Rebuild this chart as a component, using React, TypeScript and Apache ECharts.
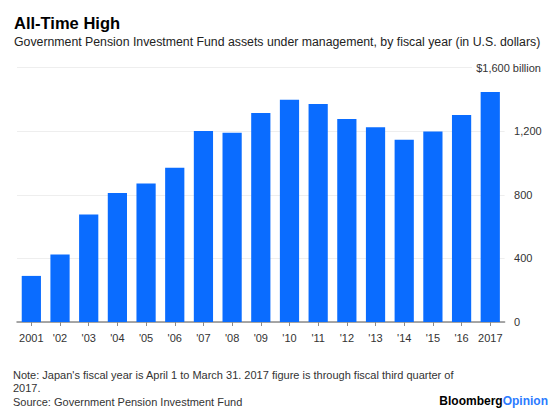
import React, { useEffect, useRef } from "react";
import * as echarts from "echarts";

const categories = ["2001", "'02", "'03", "'04", "'05", "'06", "'07", "'08", "'09", "'10", "'11", "'12", "'13", "'14", "'15", "'16", "2017"];
const assets = [290, 425, 676, 811, 872, 970, 1202, 1190, 1315, 1399, 1372, 1278, 1225, 1146, 1198, 1303, 1447];
const yTicks = [0, 400, 800, 1200, 1600];
const topTickLabel = "$1,600 billion";

const titleText = "All-Time High";
const subtitleText = "Government Pension Investment Fund assets under management, by fiscal year (in U.S. dollars)";
const noteLines = [
  "Note: Japan's fiscal year is April 1 to March 31. 2017 figure is through fiscal third quarter of",
  "2017.",
  "Source: Government Pension Investment Fund",
];

const FONT = "'Liberation Sans', Arial, sans-serif";
const BLUE = "#0a6cff";

export default function App() {
  const ref = useRef<HTMLDivElement>(null);
  useEffect(() => {
    document.body.style.margin = "0";
    if (!ref.current) return;
    const chart = echarts.init(ref.current, undefined, { renderer: "svg" });
    const fmt = (v: number) => v.toLocaleString("en-US");
    chart.setOption({
      animation: false,
      backgroundColor: "#ffffff",
      textStyle: { fontFamily: FONT },
      grid: { left: 17, right: 55.4, top: 67.7, bottom: 92, containLabel: false, outerBoundsMode: "none" },
      xAxis: {
        type: "category",
        data: categories,
        axisLine: { show: true, lineStyle: { color: "#8a8a8a", width: 1.5 } },
        axisTick: { show: true, alignWithLabel: true, length: 4, lineStyle: { color: "#8a8a8a", width: 1 } },
        axisLabel: { color: "#333", fontSize: 11, margin: 10, fontFamily: FONT, interval: 0 },
      },
      yAxis: {
        type: "value",
        position: "right",
        min: yTicks[0],
        max: yTicks[yTicks.length - 1],
        interval: yTicks[1] - yTicks[0],
        axisLine: { show: false },
        axisTick: { show: false },
        splitLine: { show: true, lineStyle: { color: "#eeeeee", width: 1 } },
        axisLabel: {
          color: "#333",
          fontSize: 11,
          margin: 9.5,
          align: "left",
          fontFamily: FONT,
          formatter: (v: number) => (v === yTicks[yTicks.length - 1] ? "" : fmt(v)),
        },
      },
      series: [
        {
          type: "bar",
          data: assets,
          barCategoryGap: "33%",
          itemStyle: { color: BLUE },
        },
      ],
      graphic: [
        {
          type: "text",
          left: 14,
          top: 14,
          z: 100,
          style: { text: titleText, font: `bold 16.5px ${FONT}`, fill: "#000" },
        },
        {
          type: "text",
          left: 14,
          top: 36,
          z: 100,
          style: { text: subtitleText, font: `12.3px ${FONT}`, fill: "#222" },
        },
        {
          type: "rect",
          z: 99,
          shape: { x: 472, y: 62, width: 40, height: 12 },
          style: { fill: "#fff" },
        },
        {
          type: "text",
          x: 541,
          y: 68,
          z: 100,
          style: {
            text: topTickLabel,
            font: `11px ${FONT}`,
            fill: "#333",
            align: "right",
            verticalAlign: "middle",
          },
        },
        ...noteLines.map((t, i) => ({
          type: "text",
          left: 13,
          top: 369 + i * 13.5,
          z: 100,
          style: { text: t, font: `11px ${FONT}`, fill: "#333" },
        })),
        {
          type: "text",
          right: 12,
          top: 395,
          z: 100,
          style: {
            text: "{b|Bloomberg}{o|Opinion}",
            rich: {
              b: { font: `bold 12px ${FONT}`, fill: "#000" },
              o: { font: `bold 12px ${FONT}`, fill: "#2b7bff" },
            },
          },
        },
      ],
    });
    return () => chart.dispose();
  }, []);
  return <div ref={ref} style={{ width: 560, height: 414 }} />;
}
